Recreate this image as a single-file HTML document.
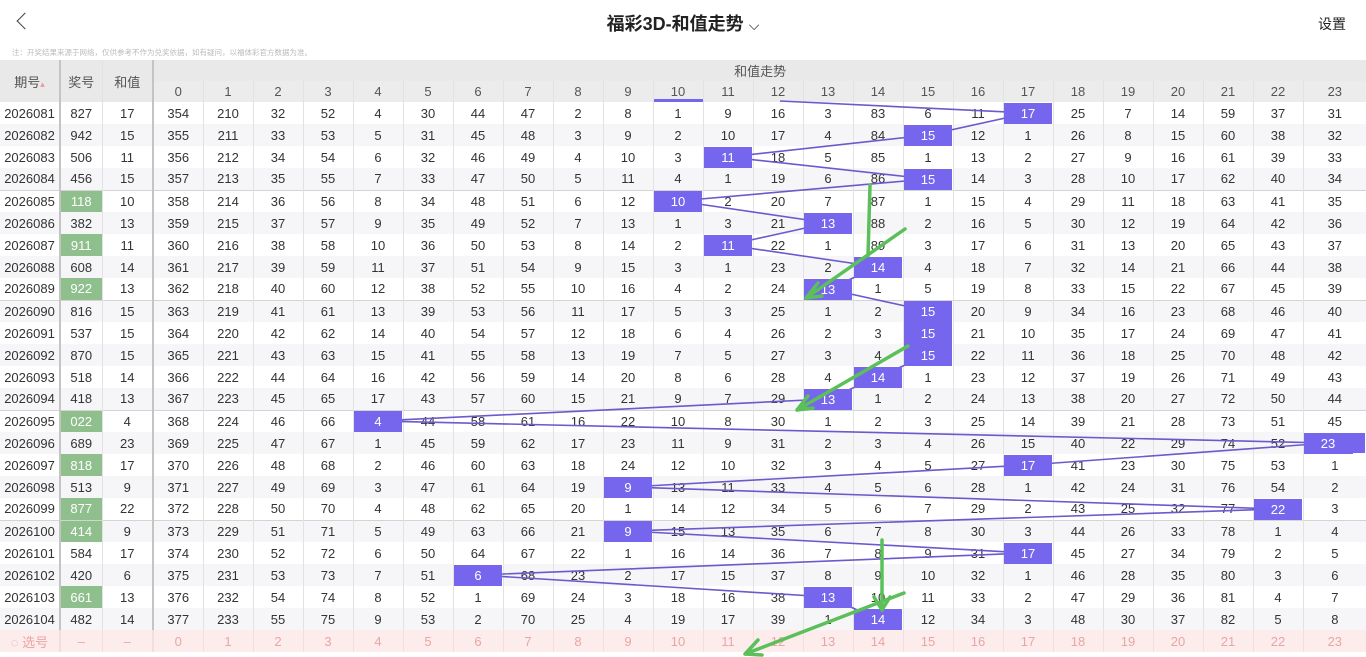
<!DOCTYPE html>
<html><head><meta charset="utf-8">
<style>
*{margin:0;padding:0;box-sizing:border-box}
body{width:1366px;height:657px;overflow:hidden;background:#fff;font-family:"Liberation Sans","Noto Sans CJK SC",sans-serif;color:#333;position:relative}
.top{position:absolute;left:0;top:0;width:1366px;height:45px}
.title{position:absolute;left:0;width:1366px;top:10px;text-align:center;font-size:18px;font-weight:bold;color:#222}
.set{position:absolute;right:20px;top:14px;font-size:14px;color:#222}
.back{position:absolute;top:15px;left:19px;width:12px;height:12px;border-left:1.5px solid #444;border-bottom:1.5px solid #444;transform:rotate(45deg)}
.note{position:absolute;left:12px;top:47px;font-size:7.5px;color:#bbb}
table{position:absolute;left:0;top:60px;border-collapse:collapse;table-layout:fixed;width:1366px}
td{height:22px;text-align:center;font-size:13px;border-left:1px solid #e2e2e2;white-space:nowrap;overflow:hidden;padding:0}
thead td{background:#e9e9ea;color:#555;height:21px;font-size:13px}
.hd2 td{background:#ececed}
.c1{border-left:none}
.s{border-left:2px solid #c4c4c4}
tbody tr:nth-child(even) td{background:#f6f6f8}
tbody tr.g td{border-top:1px solid #d4d4d4}
td.k{background:#8fbf8c!important;color:#fff}
td.h{background:#7666ee!important;color:#fff;box-shadow:inset 0 0 0 1px #fff}
tr.x td{background:#fcecec!important;color:#eaa5a5;border-left-color:#f3dede}
svg{position:absolute;left:0;top:0}
svg text{font-family:"Liberation Sans",sans-serif;font-size:13px;fill:#fff;text-anchor:middle}
</style></head><body>
<div class="top"><div class="back"></div><div class="title">福彩3D-和值走势 <span style="font-weight:normal;font-size:14px">⌵</span></div><div class="set">设置</div></div>
<div class="note">注：开奖结果来源于网络，仅供参考不作为兑奖依据，如有疑问，以福体彩官方数据为准。</div>
<table>
<colgroup><col style="width:60px"><col style="width:42px"><col style="width:51px"><col span="23" style="width:50px"><col style="width:63px"></colgroup>
<thead>
<tr><td class="c1" rowspan="2">期号<span style="color:#e99;font-size:9px">▴</span></td><td class="s" rowspan="2">奖号</td><td rowspan="2">和值</td><td class="s" colspan="24">和值走势</td></tr>
<tr class="hd2"><td class="s">0</td><td>1</td><td>2</td><td>3</td><td>4</td><td>5</td><td>6</td><td>7</td><td>8</td><td>9</td><td>10</td><td>11</td><td>12</td><td>13</td><td>14</td><td>15</td><td>16</td><td>17</td><td>18</td><td>19</td><td>20</td><td>21</td><td>22</td><td>23</td></tr>
</thead>
<tbody>
<tr><td class="c1">2026081</td><td class="s">827</td><td>17</td><td class="s">354</td><td>210</td><td>32</td><td>52</td><td>4</td><td>30</td><td>44</td><td>47</td><td>2</td><td>8</td><td>1</td><td>9</td><td>16</td><td>3</td><td>83</td><td>6</td><td>11</td><td class="h">17</td><td>25</td><td>7</td><td>14</td><td>59</td><td>37</td><td>31</td></tr>
<tr><td class="c1">2026082</td><td class="s">942</td><td>15</td><td class="s">355</td><td>211</td><td>33</td><td>53</td><td>5</td><td>31</td><td>45</td><td>48</td><td>3</td><td>9</td><td>2</td><td>10</td><td>17</td><td>4</td><td>84</td><td class="h">15</td><td>12</td><td>1</td><td>26</td><td>8</td><td>15</td><td>60</td><td>38</td><td>32</td></tr>
<tr><td class="c1">2026083</td><td class="s">506</td><td>11</td><td class="s">356</td><td>212</td><td>34</td><td>54</td><td>6</td><td>32</td><td>46</td><td>49</td><td>4</td><td>10</td><td>3</td><td class="h">11</td><td>18</td><td>5</td><td>85</td><td>1</td><td>13</td><td>2</td><td>27</td><td>9</td><td>16</td><td>61</td><td>39</td><td>33</td></tr>
<tr><td class="c1">2026084</td><td class="s">456</td><td>15</td><td class="s">357</td><td>213</td><td>35</td><td>55</td><td>7</td><td>33</td><td>47</td><td>50</td><td>5</td><td>11</td><td>4</td><td>1</td><td>19</td><td>6</td><td>86</td><td class="h">15</td><td>14</td><td>3</td><td>28</td><td>10</td><td>17</td><td>62</td><td>40</td><td>34</td></tr>
<tr class="g"><td class="c1">2026085</td><td class="s k">118</td><td>10</td><td class="s">358</td><td>214</td><td>36</td><td>56</td><td>8</td><td>34</td><td>48</td><td>51</td><td>6</td><td>12</td><td class="h">10</td><td>2</td><td>20</td><td>7</td><td>87</td><td>1</td><td>15</td><td>4</td><td>29</td><td>11</td><td>18</td><td>63</td><td>41</td><td>35</td></tr>
<tr><td class="c1">2026086</td><td class="s">382</td><td>13</td><td class="s">359</td><td>215</td><td>37</td><td>57</td><td>9</td><td>35</td><td>49</td><td>52</td><td>7</td><td>13</td><td>1</td><td>3</td><td>21</td><td class="h">13</td><td>88</td><td>2</td><td>16</td><td>5</td><td>30</td><td>12</td><td>19</td><td>64</td><td>42</td><td>36</td></tr>
<tr><td class="c1">2026087</td><td class="s k">911</td><td>11</td><td class="s">360</td><td>216</td><td>38</td><td>58</td><td>10</td><td>36</td><td>50</td><td>53</td><td>8</td><td>14</td><td>2</td><td class="h">11</td><td>22</td><td>1</td><td>89</td><td>3</td><td>17</td><td>6</td><td>31</td><td>13</td><td>20</td><td>65</td><td>43</td><td>37</td></tr>
<tr><td class="c1">2026088</td><td class="s">608</td><td>14</td><td class="s">361</td><td>217</td><td>39</td><td>59</td><td>11</td><td>37</td><td>51</td><td>54</td><td>9</td><td>15</td><td>3</td><td>1</td><td>23</td><td>2</td><td class="h">14</td><td>4</td><td>18</td><td>7</td><td>32</td><td>14</td><td>21</td><td>66</td><td>44</td><td>38</td></tr>
<tr><td class="c1">2026089</td><td class="s k">922</td><td>13</td><td class="s">362</td><td>218</td><td>40</td><td>60</td><td>12</td><td>38</td><td>52</td><td>55</td><td>10</td><td>16</td><td>4</td><td>2</td><td>24</td><td class="h">13</td><td>1</td><td>5</td><td>19</td><td>8</td><td>33</td><td>15</td><td>22</td><td>67</td><td>45</td><td>39</td></tr>
<tr class="g"><td class="c1">2026090</td><td class="s">816</td><td>15</td><td class="s">363</td><td>219</td><td>41</td><td>61</td><td>13</td><td>39</td><td>53</td><td>56</td><td>11</td><td>17</td><td>5</td><td>3</td><td>25</td><td>1</td><td>2</td><td class="h">15</td><td>20</td><td>9</td><td>34</td><td>16</td><td>23</td><td>68</td><td>46</td><td>40</td></tr>
<tr><td class="c1">2026091</td><td class="s">537</td><td>15</td><td class="s">364</td><td>220</td><td>42</td><td>62</td><td>14</td><td>40</td><td>54</td><td>57</td><td>12</td><td>18</td><td>6</td><td>4</td><td>26</td><td>2</td><td>3</td><td class="h">15</td><td>21</td><td>10</td><td>35</td><td>17</td><td>24</td><td>69</td><td>47</td><td>41</td></tr>
<tr><td class="c1">2026092</td><td class="s">870</td><td>15</td><td class="s">365</td><td>221</td><td>43</td><td>63</td><td>15</td><td>41</td><td>55</td><td>58</td><td>13</td><td>19</td><td>7</td><td>5</td><td>27</td><td>3</td><td>4</td><td class="h">15</td><td>22</td><td>11</td><td>36</td><td>18</td><td>25</td><td>70</td><td>48</td><td>42</td></tr>
<tr><td class="c1">2026093</td><td class="s">518</td><td>14</td><td class="s">366</td><td>222</td><td>44</td><td>64</td><td>16</td><td>42</td><td>56</td><td>59</td><td>14</td><td>20</td><td>8</td><td>6</td><td>28</td><td>4</td><td class="h">14</td><td>1</td><td>23</td><td>12</td><td>37</td><td>19</td><td>26</td><td>71</td><td>49</td><td>43</td></tr>
<tr><td class="c1">2026094</td><td class="s">418</td><td>13</td><td class="s">367</td><td>223</td><td>45</td><td>65</td><td>17</td><td>43</td><td>57</td><td>60</td><td>15</td><td>21</td><td>9</td><td>7</td><td>29</td><td class="h">13</td><td>1</td><td>2</td><td>24</td><td>13</td><td>38</td><td>20</td><td>27</td><td>72</td><td>50</td><td>44</td></tr>
<tr class="g"><td class="c1">2026095</td><td class="s k">022</td><td>4</td><td class="s">368</td><td>224</td><td>46</td><td>66</td><td class="h">4</td><td>44</td><td>58</td><td>61</td><td>16</td><td>22</td><td>10</td><td>8</td><td>30</td><td>1</td><td>2</td><td>3</td><td>25</td><td>14</td><td>39</td><td>21</td><td>28</td><td>73</td><td>51</td><td>45</td></tr>
<tr><td class="c1">2026096</td><td class="s">689</td><td>23</td><td class="s">369</td><td>225</td><td>47</td><td>67</td><td>1</td><td>45</td><td>59</td><td>62</td><td>17</td><td>23</td><td>11</td><td>9</td><td>31</td><td>2</td><td>3</td><td>4</td><td>26</td><td>15</td><td>40</td><td>22</td><td>29</td><td>74</td><td>52</td><td class="h">23</td></tr>
<tr><td class="c1">2026097</td><td class="s k">818</td><td>17</td><td class="s">370</td><td>226</td><td>48</td><td>68</td><td>2</td><td>46</td><td>60</td><td>63</td><td>18</td><td>24</td><td>12</td><td>10</td><td>32</td><td>3</td><td>4</td><td>5</td><td>27</td><td class="h">17</td><td>41</td><td>23</td><td>30</td><td>75</td><td>53</td><td>1</td></tr>
<tr><td class="c1">2026098</td><td class="s">513</td><td>9</td><td class="s">371</td><td>227</td><td>49</td><td>69</td><td>3</td><td>47</td><td>61</td><td>64</td><td>19</td><td class="h">9</td><td>13</td><td>11</td><td>33</td><td>4</td><td>5</td><td>6</td><td>28</td><td>1</td><td>42</td><td>24</td><td>31</td><td>76</td><td>54</td><td>2</td></tr>
<tr><td class="c1">2026099</td><td class="s k">877</td><td>22</td><td class="s">372</td><td>228</td><td>50</td><td>70</td><td>4</td><td>48</td><td>62</td><td>65</td><td>20</td><td>1</td><td>14</td><td>12</td><td>34</td><td>5</td><td>6</td><td>7</td><td>29</td><td>2</td><td>43</td><td>25</td><td>32</td><td>77</td><td class="h">22</td><td>3</td></tr>
<tr class="g"><td class="c1">2026100</td><td class="s k">414</td><td>9</td><td class="s">373</td><td>229</td><td>51</td><td>71</td><td>5</td><td>49</td><td>63</td><td>66</td><td>21</td><td class="h">9</td><td>15</td><td>13</td><td>35</td><td>6</td><td>7</td><td>8</td><td>30</td><td>3</td><td>44</td><td>26</td><td>33</td><td>78</td><td>1</td><td>4</td></tr>
<tr><td class="c1">2026101</td><td class="s">584</td><td>17</td><td class="s">374</td><td>230</td><td>52</td><td>72</td><td>6</td><td>50</td><td>64</td><td>67</td><td>22</td><td>1</td><td>16</td><td>14</td><td>36</td><td>7</td><td>8</td><td>9</td><td>31</td><td class="h">17</td><td>45</td><td>27</td><td>34</td><td>79</td><td>2</td><td>5</td></tr>
<tr><td class="c1">2026102</td><td class="s">420</td><td>6</td><td class="s">375</td><td>231</td><td>53</td><td>73</td><td>7</td><td>51</td><td class="h">6</td><td>68</td><td>23</td><td>2</td><td>17</td><td>15</td><td>37</td><td>8</td><td>9</td><td>10</td><td>32</td><td>1</td><td>46</td><td>28</td><td>35</td><td>80</td><td>3</td><td>6</td></tr>
<tr><td class="c1">2026103</td><td class="s k">661</td><td>13</td><td class="s">376</td><td>232</td><td>54</td><td>74</td><td>8</td><td>52</td><td>1</td><td>69</td><td>24</td><td>3</td><td>18</td><td>16</td><td>38</td><td class="h">13</td><td>10</td><td>11</td><td>33</td><td>2</td><td>47</td><td>29</td><td>36</td><td>81</td><td>4</td><td>7</td></tr>
<tr><td class="c1">2026104</td><td class="s">482</td><td>14</td><td class="s">377</td><td>233</td><td>55</td><td>75</td><td>9</td><td>53</td><td>2</td><td>70</td><td>25</td><td>4</td><td>19</td><td>17</td><td>39</td><td>1</td><td class="h">14</td><td>12</td><td>34</td><td>3</td><td>48</td><td>30</td><td>37</td><td>82</td><td>5</td><td>8</td></tr>
<tr class="x"><td class="c1">◌ 选号</td><td class="s">–</td><td>–</td><td class="s">0</td><td>1</td><td>2</td><td>3</td><td>4</td><td>5</td><td>6</td><td>7</td><td>8</td><td>9</td><td>10</td><td>11</td><td>12</td><td>13</td><td>14</td><td>15</td><td>16</td><td>17</td><td>18</td><td>19</td><td>20</td><td>21</td><td>22</td><td>23</td></tr>
</tbody>
</table>
<svg width="1366" height="657">
<rect x="654" y="99" width="49" height="3" fill="#7666ee"/>
<polyline fill="none" stroke="#6a5acd" stroke-width="1.6" points="780,101 1028,113 928,135 728,157 928,179 678,201 828,223 728,245 878,267 828,289 928,311 928,333 928,355 878,377 828,399 378,421 1328,443 1028,465 628,487 1278,509 628,531 1028,553 478,575 828,597 878,619"/>
<g fill="#7666ee">
<rect x="1004" y="103" width="48" height="21"/>
<rect x="904" y="125" width="48" height="21"/>
<rect x="704" y="147" width="48" height="21"/>
<rect x="904" y="169" width="48" height="21"/>
<rect x="654" y="191" width="48" height="21"/>
<rect x="804" y="213" width="48" height="21"/>
<rect x="704" y="235" width="48" height="21"/>
<rect x="854" y="257" width="48" height="21"/>
<rect x="804" y="279" width="48" height="21"/>
<rect x="904" y="301" width="48" height="65"/>
<rect x="854" y="367" width="48" height="21"/>
<rect x="804" y="389" width="48" height="21"/>
<rect x="354" y="411" width="48" height="21"/>
<rect x="1304" y="433" width="49" height="21"/>
<rect x="1004" y="455" width="48" height="21"/>
<rect x="604" y="477" width="48" height="21"/>
<rect x="1254" y="499" width="48" height="21"/>
<rect x="604" y="521" width="48" height="21"/>
<rect x="1004" y="543" width="48" height="21"/>
<rect x="454" y="565" width="48" height="21"/>
<rect x="804" y="587" width="48" height="21"/>
<rect x="854" y="609" width="48" height="21"/>
</g>
<g>
<text x="1028" y="118">17</text>
<text x="928" y="140">15</text>
<text x="728" y="162">11</text>
<text x="928" y="184">15</text>
<text x="678" y="206">10</text>
<text x="828" y="228">13</text>
<text x="728" y="250">11</text>
<text x="878" y="272">14</text>
<text x="828" y="294">13</text>
<text x="928" y="316">15</text>
<text x="928" y="338">15</text>
<text x="928" y="360">15</text>
<text x="878" y="382">14</text>
<text x="828" y="404">13</text>
<text x="378" y="426">4</text>
<text x="1328" y="448">23</text>
<text x="1028" y="470">17</text>
<text x="628" y="492">9</text>
<text x="1278" y="514">22</text>
<text x="628" y="536">9</text>
<text x="1028" y="558">17</text>
<text x="478" y="580">6</text>
<text x="828" y="602">13</text>
<text x="878" y="624">14</text>
</g>
<g stroke="#5cc05a" stroke-width="3.5" fill="none" stroke-linecap="round" stroke-linejoin="round">
<path d="M870 185 L868 256"/>
<path d="M905 229 L806 298 M806 298 L818 283 M806 298 L822 296"/>
<path d="M908 346 L797 410 M797 410 L808 396 M797 410 L813 408"/>
<path d="M882 540 L882 610 M882 610 L874 597 M882 610 L890 597"/>
<path d="M904 593 L745 654 M745 654 L758 640 M745 654 L762 655"/>
</g>
</svg>
</body></html>
